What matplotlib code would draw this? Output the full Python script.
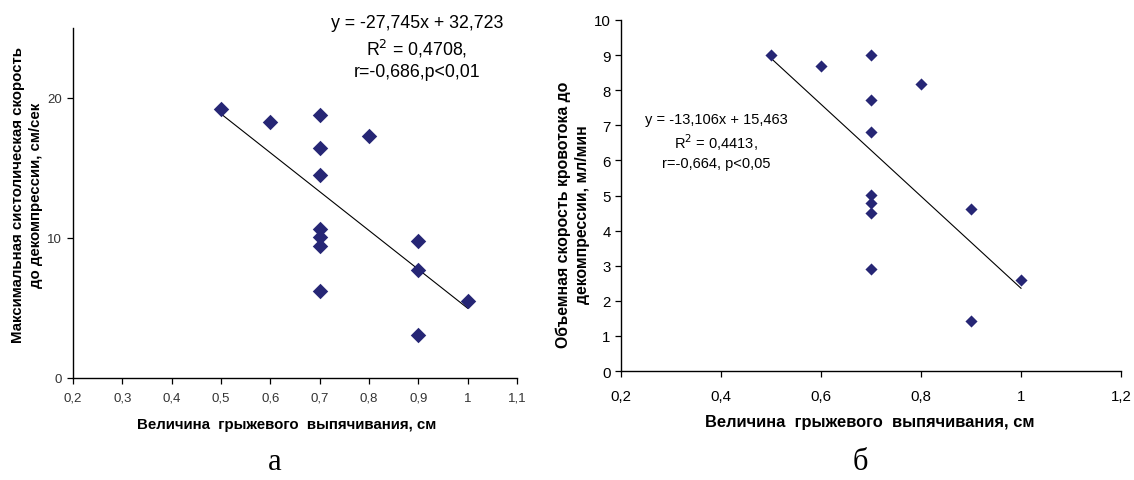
import matplotlib
matplotlib.use("Agg")
import matplotlib.pyplot as plt
import numpy as np

plt.rcParams['font.family'] = ['Liberation Sans', 'DejaVu Sans']

# ---- data, chart a ----
xa = [0.5, 0.6, 0.7, 0.7, 0.7, 0.7, 0.7, 0.7, 0.7, 0.8, 0.9, 0.9, 0.9, 1.0]
ya = [19.2, 18.3, 18.8, 16.4, 14.5, 10.6, 10.05, 9.4, 6.2, 17.3, 9.8, 7.7, 3.1, 5.5]
slope_a, icpt_a = -27.745, 32.723
text_a = "y = -27,745x + 32,723\nR$^2$ = 0,4708,\nr=-0,686,p<0,01"
xticks_a = [0.2, 0.3, 0.4, 0.5, 0.6, 0.7, 0.8, 0.9, 1.0, 1.1]
xticklabels_a = ["0,2", "0,3", "0,4", "0,5", "0,6", "0,7", "0,8", "0,9", "1", "1,1"]
yticks_a = [0, 10, 20]

# ---- data, chart b ----
xb = [0.5, 0.6, 0.7, 0.7, 0.7, 0.7, 0.7, 0.7, 0.7, 0.8, 0.9, 0.9, 1.0]
yb = [9.0, 8.7, 9.0, 7.72, 6.81, 5.01, 4.8, 4.49, 2.92, 8.18, 4.61, 1.43, 2.6]
slope_b, icpt_b = -13.106, 15.463
text_b = "y = -13,106x + 15,463\nR$^2$ = 0,4413,\nr=-0,664, p<0,05"
xticks_b = [0.2, 0.4, 0.6, 0.8, 1.0, 1.2]
xticklabels_b = ["0,2", "0,4", "0,6", "0,8", "1", "1,2"]
yticks_b = list(range(0, 11))

xlabel = "Величина  грыжевого  выпячивания, см"
ylabel_a = "Максимальная систолическая скорость\nдо декомпрессии, см/сек"
ylabel_b = "Объемная скорость кровотока до\nдекомпрессии, мл/мин"

W, H = 1134, 481
fig = plt.figure(figsize=(W / 100, H / 100), dpi=100)
fig.patch.set_facecolor('white')

def px_axes(x0, x1, top, bottom):
    return fig.add_axes([x0 / W, 1 - bottom / H, (x1 - x0) / W, (bottom - top) / H])

mcol = '#262675'

# ---------- chart a ----------
ax = px_axes(73, 517, 28.7, 379)
ax.set_xlim(0.2, 1.1)
ax.set_ylim(0, 25)
ax.scatter(xa, ya, marker='D', s=62, color=mcol, zorder=3, linewidths=0)
xl = np.array([min(xa), max(xa)])
ax.plot(xl, slope_a * xl + icpt_a, color='black', lw=0.8, zorder=2)
ax.set_xticks(xticks_a)
ax.set_xticklabels(xticklabels_a)
ax.set_yticks(yticks_a)
for s in ['top', 'right']:
    ax.spines[s].set_visible(False)
for s in ['left', 'bottom']:
    ax.spines[s].set_linewidth(1.0)
ax.tick_params(direction='out', length=4, width=0.9, labelsize=9.5,
               labelcolor='#333333')
ax.tick_params(axis='x', pad=6)
ax.tick_params(axis='y', pad=4)
fig.text(417 / W, 1 - 48 / H, text_a, ha='center', va='center',
         fontsize=12.8, linespacing=1.35)
fig.text(287 / W, 1 - 425 / H, xlabel, ha='center', va='center',
         fontsize=10.8, fontweight='bold')
fig.text(27 / W, 1 - 195 / H, ylabel_a, ha='center', va='center',
         rotation=90, fontsize=10.8, fontweight='bold', linespacing=1.4)
fig.text(275 / W, 1 - 463 / H, "а", ha='center', va='center',
         fontsize=22, family=['Liberation Serif', 'DejaVu Serif'])

# ---------- chart b ----------
bx = px_axes(621, 1121, 21, 372)
bx.set_xlim(0.2, 1.2)
bx.set_ylim(0, 10)
bx.scatter(xb, yb, marker='D', s=38, color=mcol, zorder=3, linewidths=0)
xl = np.array([min(xb), max(xb)])
bx.plot(xl, slope_b * xl + icpt_b, color='black', lw=0.8, zorder=2)
bx.set_xticks(xticks_b)
bx.set_xticklabels(xticklabels_b)
bx.set_yticks(yticks_b)
for s in ['top', 'right']:
    bx.spines[s].set_visible(False)
for s in ['left', 'bottom']:
    bx.spines[s].set_linewidth(1.0)
bx.tick_params(direction='out', length=4, width=0.9, labelsize=10.8,
               labelcolor='black')
bx.tick_params(axis='x', pad=9)
fig.text(716 / W, 1 - 142 / H, text_b, ha='center', va='center',
         fontsize=10.5, linespacing=1.3)
fig.text(870 / W, 1 - 423 / H, xlabel, ha='center', va='center',
         fontsize=11.9, fontweight='bold')
fig.text(573 / W, 1 - 215 / H, ylabel_b, ha='center', va='center',
         rotation=90, fontsize=11.4, fontweight='bold', linespacing=1.3)
fig.text(860 / W, 1 - 463 / H, "б", ha='center', va='center',
         fontsize=22, family=['Liberation Serif', 'DejaVu Serif'])

fig.savefig('out.png', dpi=100, facecolor='white')
